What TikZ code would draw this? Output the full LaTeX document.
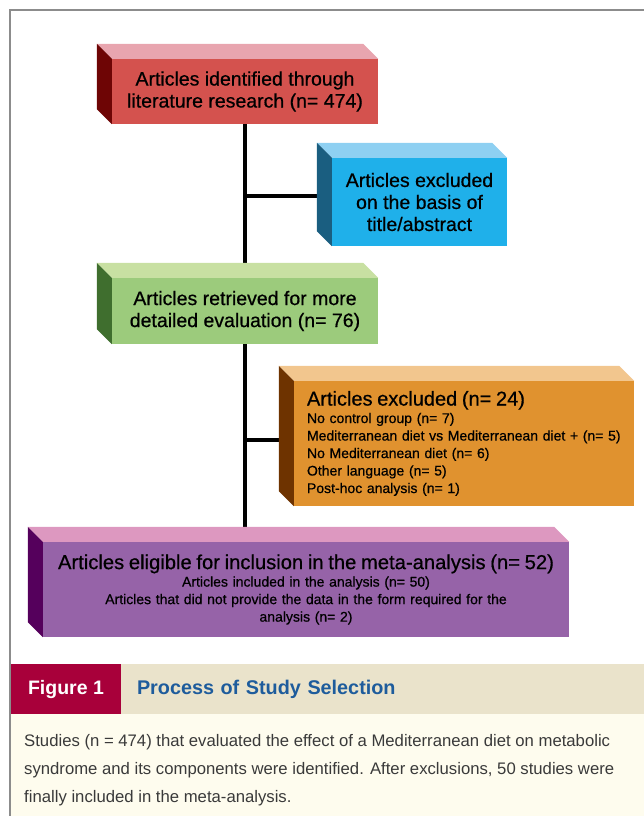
\documentclass[tikz,border=0pt]{standalone}
\usepackage{fontspec}
\setmainfont{Liberation Sans}
\newfontfamily\boxfont[FakeBold=0.6]{Liberation Sans}
\usetikzlibrary{backgrounds}
\definecolor{redF}{HTML}{D4524E}
\definecolor{redT}{HTML}{E8A5AF}
\definecolor{redS}{HTML}{6E0505}
\definecolor{blueF}{HTML}{1FB0EA}
\definecolor{blueT}{HTML}{8ED0F2}
\definecolor{blueS}{HTML}{1A5E80}
\definecolor{greenF}{HTML}{9CCB7C}
\definecolor{greenT}{HTML}{C8E0A2}
\definecolor{greenS}{HTML}{3F6E2E}
\definecolor{orangeF}{HTML}{E0922F}
\definecolor{orangeT}{HTML}{F2C68E}
\definecolor{orangeS}{HTML}{6E3300}
\definecolor{purpleF}{HTML}{9663A8}
\definecolor{purpleT}{HTML}{DD98C0}
\definecolor{purpleS}{HTML}{55005C}
\definecolor{figRed}{HTML}{A8003A}
\definecolor{bandCol}{HTML}{EAE3CB}
\definecolor{creamCol}{HTML}{FEFCEE}
\definecolor{capBlue}{HTML}{1E5C9C}
\definecolor{frameCol}{HTML}{8C8C8C}
\definecolor{capText}{HTML}{3A3A3A}
\newcommand\boxsides[3]{%
  \fill[#2] (#1.north west) -- (#1.north east) -- ++(-15,-15) -- ([shift={(-15,-15)}]#1.north west) -- cycle;
  \fill[#3] (#1.north west) -- (#1.south west) -- ++(-15,-15) -- ([shift={(-15,-15)}]#1.north west) -- cycle;}
\begin{document}
\begin{tikzpicture}[x=1pt,y=-1pt,
  frontbox/.style={inner sep=0pt, align=center, text=black, font=\boxfont\fontsize{19.5}{22}\selectfont},
  trunk/.style={line width=4pt, black},
  smallfont/.style={font=\boxfont\fontsize{14}{17.5}\selectfont}]
\useasboundingbox (0,0) rectangle (644,816);
% frame
\draw[frameCol, line width=2pt] (10,816) -- (10,10) -- (644,10);
% boxes
\node[frontbox, fill=redF, minimum width=266pt, minimum height=65pt] (ident) at (245,91.5)
  {Articles identified through\\literature research (n= 474)};
\boxsides{ident}{redT}{redS}
\node[frontbox, fill=blueF, minimum width=175pt, minimum height=88pt] (excl1) at (419.5,202)
  {Articles excluded\\on the basis of\\title/abstract};
\boxsides{excl1}{blueT}{blueS}
\node[frontbox, fill=greenF, minimum width=266pt, minimum height=66pt] (retr) at (245,311)
  {Articles retrieved for more\\detailed evaluation (n= 76)};
\boxsides{retr}{greenT}{greenS}
\node[frontbox, smallfont, fill=orangeF, minimum width=340pt, minimum height=125pt, text width=314pt, align=left] (excl2) at (464,443.5)
  {{\fontsize{20}{22}\selectfont Articles excluded (n= 24)\par}No control group (n= 7)\\Mediterranean diet vs Mediterranean diet + (n= 5)\\No Mediterranean diet (n= 6)\\Other language (n= 5)\\Post-hoc analysis (n= 1)};
\boxsides{excl2}{orangeT}{orangeS}
\node[frontbox, smallfont, fill=purpleF, minimum width=526pt, minimum height=95pt, text width=520pt, align=center] (elig) at (306,589.5)
  {{\fontsize{20.2}{22}\selectfont Articles eligible for inclusion in the meta-analysis (n= 52)\par}Articles included in the analysis (n= 50)\\Articles that did not provide the data in the form required for the\\analysis (n= 2)};
\boxsides{elig}{purpleT}{purpleS}
% connectors
\coordinate (b1) at ([yshift=6pt]excl1.west);
\coordinate (b2) at ([yshift=4pt]excl2.west);
\begin{scope}[on background layer]
\draw[trunk] (ident.south) -- (ident.south |- elig.north);
\draw[trunk] (b1 -| ident.south) -- (b1);
\draw[trunk] (b2 -| ident.south) -- (b2);
\end{scope}
% caption
\node[fill=figRed, text=white, minimum width=110pt, minimum height=50pt, inner sep=0pt,
  font=\fontsize{19.5}{22}\selectfont\bfseries] (figlabel) at (66,689) {Figure 1};
\node[fill=bandCol, text=capBlue, minimum height=50pt, text width=491pt, inner xsep=16pt, inner ysep=0pt,
  align=left, font=\fontsize{19.8}{22}\selectfont\bfseries] (figtitle) at (382.5,689) {Process of Study Selection};
\node[fill=creamCol, minimum width=633pt, minimum height=102pt, inner sep=0pt] (creamarea) at (327.5,765) {};
\node[text=capText, inner sep=0pt, anchor=west, align=left, font=\fontsize{16.7}{28}\selectfont] (figtext) at (24,770)
  {Studies (n = 474) that evaluated the effect of a Mediterranean diet on metabolic\\syndrome and its components were identified. After exclusions, 50 studies were\\finally included in the meta-analysis.};
\end{tikzpicture}
\end{document}
